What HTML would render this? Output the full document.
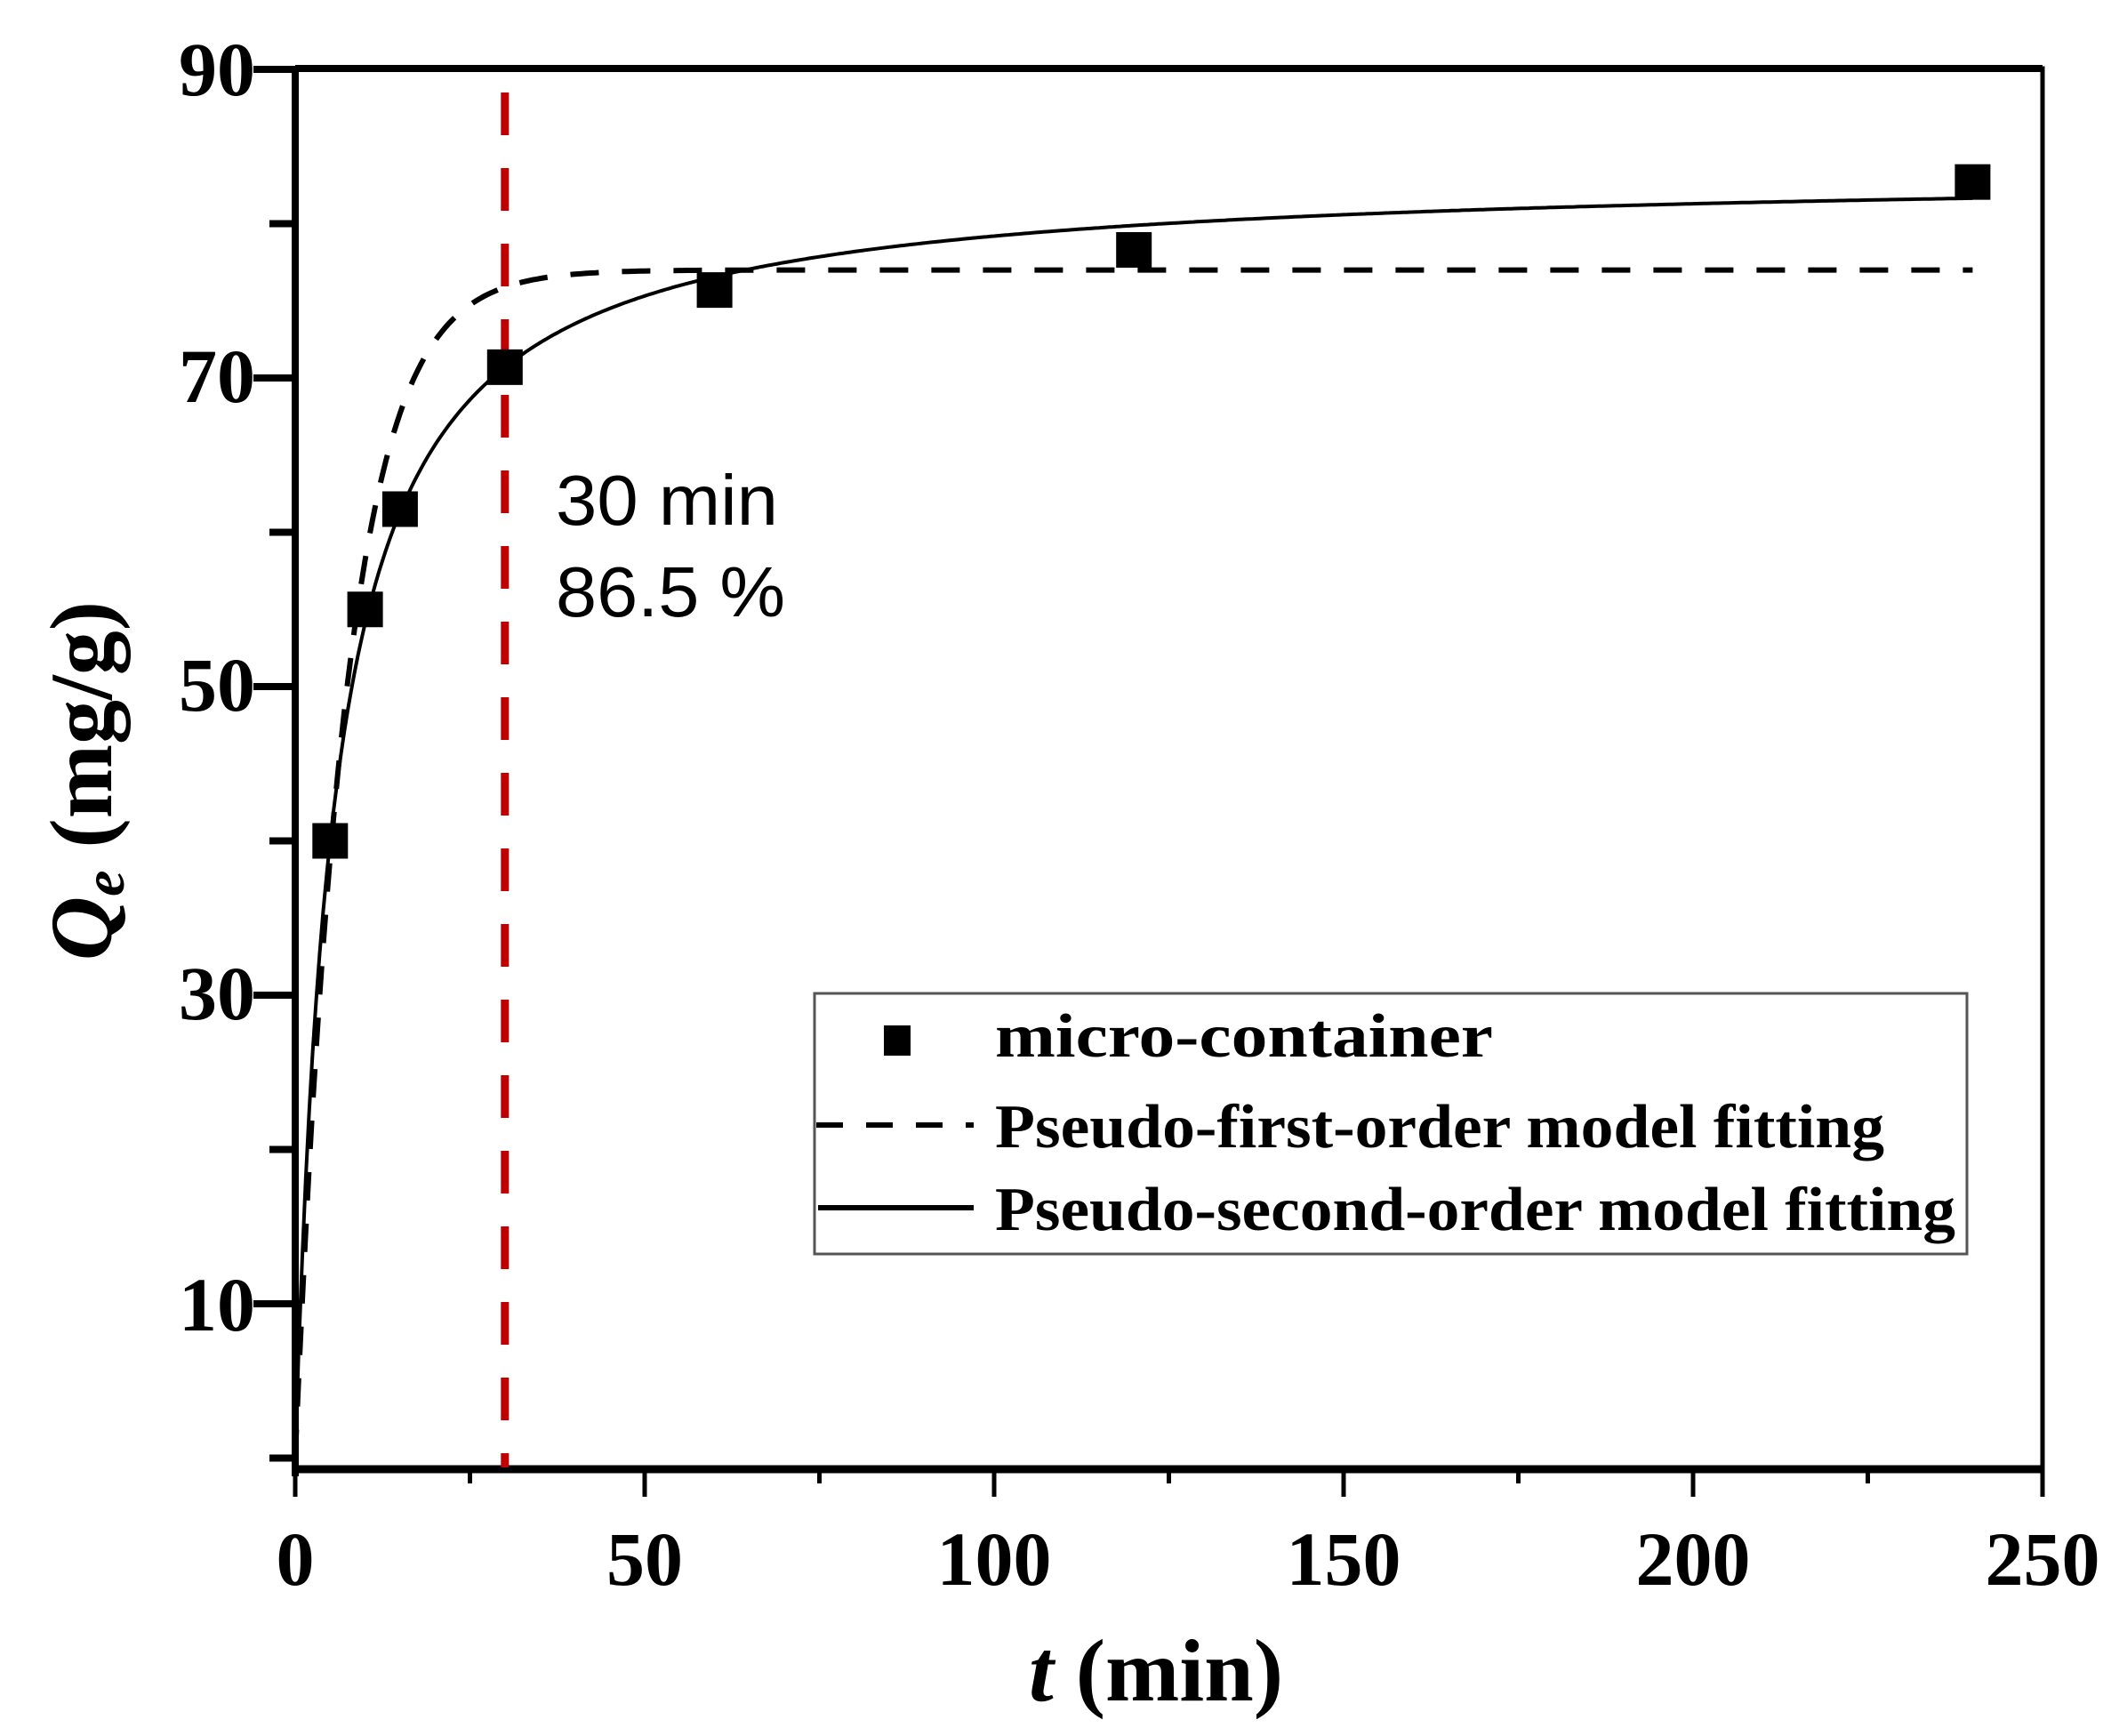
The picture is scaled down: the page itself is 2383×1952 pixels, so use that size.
<!DOCTYPE html>
<html><head><meta charset="utf-8">
<style>html,body{margin:0;padding:0;background:#fff}svg{display:block}</style>
</head><body>
<svg id="s" xmlns="http://www.w3.org/2000/svg" width="2383" height="1952" viewBox="0 0 2383 1952">
<rect width="2383" height="1952" fill="#fff"/>
<g font-family="Liberation Serif, serif" font-weight="bold" fill="#000">
<g font-size="86" text-anchor="end">
<text x="287" y="107">90</text>
<text x="287" y="452">70</text>
<text x="287" y="799">50</text>
<text x="287" y="1146">30</text>
<text x="287" y="1496">10</text>
</g>
<g font-size="86" text-anchor="middle">
<text x="332" y="1782">0</text>
<text x="725" y="1782">50</text>
<text x="1118" y="1782">100</text>
<text x="1511" y="1782">150</text>
<text x="1904" y="1782">200</text>
<text x="2297" y="1782">250</text>
</g>
<text x="1300" y="1912" font-size="100" text-anchor="middle"><tspan font-style="italic">t</tspan> (min)</text>
<text transform="translate(125,878) rotate(-90)" font-size="100" text-anchor="middle"><tspan font-style="italic">Q</tspan><tspan font-style="italic" font-size="66" dy="14">e</tspan><tspan dy="-14"> (mg/g)</tspan></text>
</g>
<g id="plot"></g>
<g font-family="Liberation Sans, sans-serif" font-size="80" fill="#000">
<text x="625" y="590" textLength="250" lengthAdjust="spacingAndGlyphs">30 min</text>
<text x="625" y="693" textLength="258" lengthAdjust="spacingAndGlyphs">86.5 %</text>
</g>
<rect x="916" y="1117" width="1296" height="293" fill="#fff" stroke="#555" stroke-width="3"/>
<rect x="994" y="1153" width="30" height="34" fill="#000"/>
<line x1="918" y1="1265" x2="1095" y2="1265" stroke="#000" stroke-width="6" stroke-dasharray="30,26"/>
<line x1="920" y1="1358" x2="1095" y2="1358" stroke="#000" stroke-width="6"/>
<g font-family="Liberation Serif, serif" font-weight="bold" font-size="70" fill="#000">
<text x="1119" y="1188" textLength="560" lengthAdjust="spacingAndGlyphs">micro-container</text>
<text x="1119" y="1290" textLength="1000" lengthAdjust="spacingAndGlyphs">Pseudo-first-order model fitting</text>
<text x="1119" y="1383" textLength="1080" lengthAdjust="spacingAndGlyphs">Pseudo-second-order model fitting</text>
</g>
</svg>
<script>
(function(){
var NS="http://www.w3.org/2000/svg",g=document.getElementById("plot");
function X(t){return 332+t*7.86;}
function Y(v){return 1466-(v-10)*17.35;}
function el(n,a){var e=document.createElementNS(NS,n);for(var k in a)e.setAttribute(k,a[k]);g.appendChild(e);return e;}
el("rect",{x:332,y:77,width:1965,height:1577,fill:"none",stroke:"#000","stroke-width":5});
el("line",{x1:332,y1:77,x2:2297,y2:77,stroke:"#000","stroke-width":8});
el("line",{x1:332,y1:77,x2:332,y2:1660,stroke:"#000","stroke-width":8});
el("line",{x1:332,y1:1652,x2:2297,y2:1652,stroke:"#000","stroke-width":9});
[90,70,50,30,10].forEach(function(v){el("line",{x1:285,y1:Y(v),x2:332,y2:Y(v),stroke:"#000","stroke-width":8});});
[80,60,40,20,0].forEach(function(v){el("line",{x1:303,y1:Y(v),x2:332,y2:Y(v),stroke:"#000","stroke-width":8});});
for(var t=0;t<=250;t+=25){var maj=t%50==0;el("line",{x1:X(t),y1:1652,x2:X(t),y2:maj?1683:1668,stroke:"#000","stroke-width":5});}
el("line",{x1:X(30),y1:104,x2:X(30),y2:1650,stroke:"#c00000","stroke-width":9,"stroke-dasharray":"48,37"});
var d="";for(var t=0;t<=240;t+=0.5){var q=77*(1-Math.exp(-0.141*t));d+=(t?"L":"M")+X(t).toFixed(1)+","+Y(q).toFixed(1);}
el("path",{d:d,fill:"none",stroke:"#000","stroke-width":6,"stroke-dasharray":"32,26"});
d="";for(var t=0;t<=240;t+=0.5){var a=0.184*t;var q=83.5*a/(1+a);d+=(t?"L":"M")+X(t).toFixed(1)+","+Y(q).toFixed(1);}
el("path",{d:d,fill:"none",stroke:"#000","stroke-width":4});
[[5,40],[10,55],[15,61.5],[30,70.7],[60,75.7],[120,78.3],[240,82.7]].forEach(function(p){el("rect",{x:X(p[0])-20,y:Y(p[1])-20,width:40,height:40,fill:"#000"});});
})();
</script>
</body></html>
